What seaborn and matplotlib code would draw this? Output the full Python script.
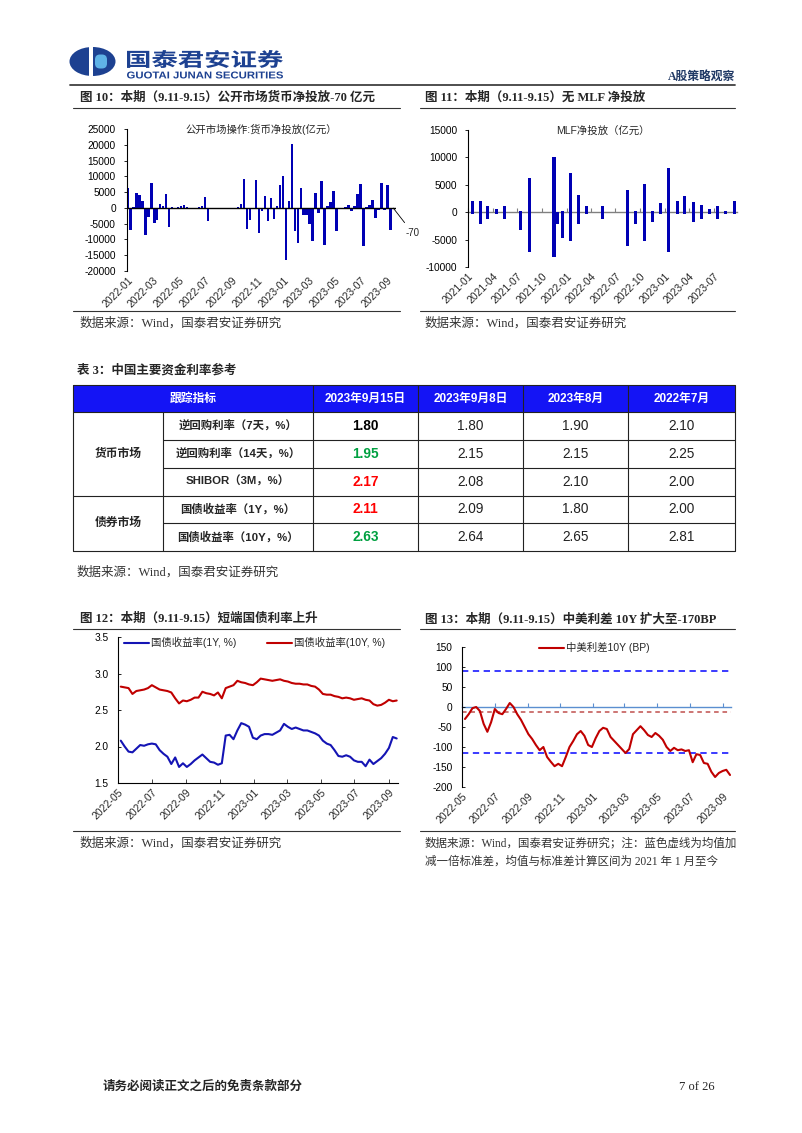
import pandas as pd
import matplotlib
matplotlib.use('Agg')
import matplotlib.pyplot as plt
import matplotlib.dates as mdates
from matplotlib.patches import Rectangle, Ellipse, FancyBboxPatch, PathPatch
from matplotlib.textpath import TextPath
from matplotlib.font_manager import FontProperties
from matplotlib.transforms import Affine2D
import seaborn as sns

# ---- fig 10: weekly open market net injection (100m yuan) ----
omo_start, omo_end = '2021-12-31', '2023-09-15'
omo_net = [6200, -7000, 300, 4800, 4200, 2300, -8500, -3000, 7900, -4800,
           -3700, 1300, 700, 4500, -6100, 400, -300, 300, 500, 800,
           400, 0, 0, 0, 200, 500, 3400, -4300, 0, -300,
           -400, -300, -200, 0, 0, 100, 0, 300, 1100, 9000,
           -6700, -3700, -500, 8700, -7800, -1100, 3900, -4000, 3200, -3600,
           500, 7400, 10000, -16500, 2300, 20100, -7400, -11100, 6300, -2200,
           -2200, -5100, -10400, 4800, -1600, 8500, -11800, 500, 2000, 5500,
           -7400, -400, -200, 300, 900, -1000, 600, 4400, 7600, -12100,
           300, 1000, 2600, -3300, -800, 7900, -800, 7100, -7000, -70]

# ---- fig 11: MLF operations (100m yuan) ----
mlf_dates = ['2021-01-15', '2021-02-15', '2021-03-15', '2021-04-15', '2021-05-15',
             '2021-07-15', '2021-08-15', '2021-11-15', '2021-11-29', '2021-12-15',
             '2022-01-15', '2022-02-15', '2022-03-15', '2022-05-15', '2022-08-15',
             '2022-09-15', '2022-10-15', '2022-11-15', '2022-12-15', '2023-01-15',
             '2023-02-15', '2023-03-15', '2023-04-15', '2023-05-15', '2023-06-15',
             '2023-07-15', '2023-08-15', '2023-09-15']
mlf_in = [2100, 2100, 1100, 600, 1100, 200, 6200, 10100, 0, 200,
          7100, 3200, 1100, 1100, 4100, 300, 5100, 300, 1700, 8000,
          2100, 3000, 1900, 1400, 600, 1200, 200, 2100]
mlf_out = [-300, -2200, -1200, -300, -1200, -3200, -7300, -8200, -2200, -4700,
           -5200, -2200, -300, -1200, -6200, -2200, -5300, -1700, -300, -7300,
           -300, -300, -1700, -1300, -300, -1300, -300, -300]

# ---- fig 12 / 13: weekly yields ----
rate_start, rate_end = '2022-05-06', '2023-09-15'
cgb_1y = [2.08, 2.00, 1.93, 1.92, 1.97, 2.02, 2.01, 2.03, 2.04, 2.03,
          1.95, 1.90, 1.86, 1.76, 1.85, 1.72, 1.77, 1.72, 1.76, 1.81,
          1.85, 1.89, 1.84, 1.79, 1.78, 1.75, 1.77, 2.15, 2.16, 2.10,
          2.22, 2.32, 2.30, 2.27, 2.12, 2.10, 2.15, 2.17, 2.17, 2.16,
          2.19, 2.22, 2.31, 2.27, 2.24, 2.26, 2.24, 2.22, 2.22, 2.20,
          2.18, 2.15, 2.08, 2.04, 2.02, 1.95, 1.87, 1.86, 1.88, 1.86,
          1.81, 1.79, 1.79, 1.73, 1.82, 1.76, 1.80, 1.84, 1.90, 1.98,
          2.13, 2.11]
cgb_10y = [2.82, 2.81, 2.80, 2.72, 2.76, 2.77, 2.78, 2.80, 2.84, 2.81,
           2.78, 2.77, 2.76, 2.74, 2.66, 2.59, 2.63, 2.62, 2.64, 2.67,
           2.67, 2.75, 2.73, 2.72, 2.70, 2.74, 2.66, 2.80, 2.82, 2.84,
           2.90, 2.88, 2.87, 2.85, 2.84, 2.88, 2.93, 2.92, 2.91, 2.90,
           2.91, 2.92, 2.90, 2.89, 2.87, 2.86, 2.86, 2.85, 2.85, 2.83,
           2.82, 2.78, 2.72, 2.71, 2.71, 2.69, 2.68, 2.66, 2.67, 2.66,
           2.64, 2.65, 2.66, 2.64, 2.63, 2.58, 2.56, 2.57, 2.60, 2.64,
           2.62, 2.63]
cn_us_10y = [-30, -18, -3, 0, -10, -42, -62, -38, -5, -15,
             -18, -5, 10, 0, -18, -32, -50, -68, -80, -95,
             -108, -100, -125, -137, -148, -142, -148, -125, -100, -85,
             -68, -60, -72, -95, -100, -78, -60, -52, -55, -75,
             -85, -95, -105, -115, -105, -68, -58, -48, -58, -70,
             -75, -65, -72, -82, -100, -110, -102, -108, -106, -110,
             -108, -138, -118, -120, -140, -142, -162, -175, -165, -160,
             -157, -170]
spread_mean = -12
spread_std = 103

# ---- table 3 ----
table_header = ['跟踪指标', '2023年9月15日', '2023年9月8日', '2023年8月', '2022年7月']
table_groups = ['货币市场', '债券市场']
group_sizes = [3, 2]
table_rows = ['逆回购利率（7天，%）', '逆回购利率（14天，%）', 'SHIBOR（3M，%）',
              '国债收益率（1Y，%）', '国债收益率（10Y，%）']
rate_now = ['1.80', '1.95', '2.17', '2.11', '2.63']
rate_prev_week = ['1.80', '2.15', '2.08', '2.09', '2.64']
rate_aug = ['1.90', '2.15', '2.10', '1.80', '2.65']
rate_jul22 = ['2.10', '2.25', '2.00', '2.00', '2.81']

W, H = 802, 1133
CJK = 'Noto Sans CJK SC'
SANS = ['Liberation Sans', CJK]
SERIF = ['Liberation Serif', CJK]
BAR_BLUE = '#0000b4'
NAVY = '#1d4191'
SRC = '数据来源：Wind，国泰君安证券研究'


def px_axes(fig, l, t, r, b):
    return fig.add_axes([l / W, 1 - b / H, (r - l) / W, (b - t) / H])


def stretched_text(ov, s, x0, y0, x1, y1, prop, color):
    tp = TextPath((0, 0), s, size=10, prop=prop)
    ext = tp.get_extents()
    tr = (Affine2D().translate(-ext.x0, -ext.y0)
          .scale((x1 - x0) / ext.width, -(y1 - y0) / ext.height)
          .translate(x0, y1))
    ov.add_patch(PathPatch(tr.transform_path(tp), fc=color, ec='none'))


def base_style(ax, ydir='out', pad=5.5):
    ax.set_facecolor('none')
    for s in ['top', 'right']:
        ax.spines[s].set_visible(False)
    ax.spines['left'].set_color('black')
    ax.spines['left'].set_linewidth(0.8)
    ax.tick_params(axis='y', labelsize=7.3, length=2.5, width=0.6, direction=ydir,
                   pad=pad, left=True, colors='black')
    ax.tick_params(axis='x', labelsize=7.5, length=0, pad=3, bottom=True)
    ax.set_xlabel('')
    ax.set_ylabel('')
    ax.grid(False)


def date_ticks(ax, months):
    ax.xaxis.set_major_locator(mdates.MonthLocator(bymonth=months))
    ax.xaxis.set_major_formatter(mdates.DateFormatter('%Y-%m'))
    plt.setp(ax.get_xticklabels(), rotation=45, ha='right', rotation_mode='anchor')


def zero_axis(ax, frac, months, color, direction):
    sec = ax.secondary_xaxis(frac)
    sec.xaxis.set_major_locator(mdates.MonthLocator(bymonth=months))
    sec.tick_params(direction=direction, length=3, width=0.8, colors=color,
                    labelbottom=False, labeltop=False)
    for s in sec.spines.values():
        s.set_color(color)
        s.set_linewidth(1.0)


def draw_header(ov):
    ov.add_patch(Ellipse((92.5, 61.5), 46, 29, fc=NAVY, ec='none'))
    ov.add_patch(Rectangle((88.5, 45), 4.5, 33, fc='white', ec='none'))
    ov.add_patch(FancyBboxPatch((95, 54.5), 12, 14, boxstyle='round,pad=0,rounding_size=5',
                                fc='#5fb2e6', ec='none'))
    stretched_text(ov, '国泰君安证券', 127, 50, 283, 68,
                   FontProperties(family=CJK, weight='bold'), NAVY)
    stretched_text(ov, 'GUOTAI JUNAN SECURITIES', 127, 71.5, 283, 78.5,
                   FontProperties(family='Liberation Sans', weight='bold'), NAVY)
    ov.text(735, 77, 'A股策略观察', fontsize=8.5, family=SERIF, fontweight='bold',
            color='#1f3864', ha='right', va='center')
    ov.plot([70, 735], [84.5, 84.5], color='#404040', lw=1.3)


def section_frame(ov, x_text, x0, x1, y_title, title, y_bot, notes, note_size=9):
    ov.text(x_text, y_title, title, fontsize=9, family=SERIF, fontweight='bold',
            ha='left', va='center')
    ov.plot([x0, x1], [y_title + 9.5, y_title + 9.5], color='#333333', lw=0.8)
    ov.plot([x0, x1], [y_bot, y_bot], color='#333333', lw=0.8)
    for i, n in enumerate(notes):
        ov.text(x_text, y_bot + 12 + 19 * i, n, fontsize=note_size, family=SERIF,
                color='#333333', ha='left', va='center')


def draw_omo(fig):
    ax = px_axes(fig, 127, 129, 396.3, 271)
    weeks = pd.date_range(omo_start, omo_end, freq='W-FRI')
    x = mdates.date2num(weeks)
    sns.barplot(x=x, y=omo_net, native_scale=True, color=BAR_BLUE, saturation=1,
                width=0.8, linewidth=0, ax=ax)
    ax.axhline(0, color='black', lw=1.0)
    ax.set_xlim(mdates.datestr2num('2021-12-30'), mdates.datestr2num('2023-09-22'))
    ax.set_ylim(-20000, 25000)
    ax.set_yticks(range(-20000, 25001, 5000))
    base_style(ax, pad=5.5)
    ax.spines['bottom'].set_visible(False)
    date_ticks(ax, [1, 3, 5, 7, 9, 11])
    ax.set_title('公开市场操作:货币净投放(亿元）', fontsize=7.5, family=SANS, y=0.97, pad=0)
    ax.annotate(f'{omo_net[-1]}', xy=(x[-1], omo_net[-1]), xytext=(14, -18),
                textcoords='offset points', fontsize=7, ha='center', va='center',
                arrowprops=dict(arrowstyle='-', color='black', lw=0.6, shrinkA=2, shrinkB=0),
                annotation_clip=False)


def draw_mlf(fig):
    ax = px_axes(fig, 468.3, 130, 737, 267)
    x = mdates.date2num(pd.to_datetime(mlf_dates))
    sns.barplot(x=x, y=mlf_in, native_scale=True, color=BAR_BLUE, saturation=1,
                width=0.8, linewidth=0, ax=ax)
    sns.barplot(x=x, y=mlf_out, native_scale=True, color=BAR_BLUE, saturation=1,
                width=0.8, linewidth=0, ax=ax)
    ax.set_xlim(mdates.datestr2num('2021-01-01'), mdates.datestr2num('2023-09-25'))
    ax.set_ylim(-10000, 15000)
    ax.set_yticks(range(-10000, 15001, 5000))
    base_style(ax, pad=5.5)
    ax.spines['bottom'].set_visible(False)
    date_ticks(ax, [1, 4, 7, 10])
    zero_axis(ax, 10000 / 25000, [1, 4, 7, 10], '#808080', 'in')
    ax.set_title('MLF净投放（亿元）', fontsize=7.5, family=SANS, y=0.97, pad=0)


def draw_table(ov):
    cols = [73, 163, 313, 418, 523, 628, 735]
    rows = [385, 412, 440, 467.5, 495.5, 523, 551]
    ov.add_patch(Rectangle((cols[0], rows[0]), cols[-1] - cols[0], rows[1] - rows[0],
                           fc='#1414f5', ec='none'))
    lc, lw = '#222222', 0.8
    ov.plot([cols[0], cols[-1], cols[-1], cols[0], cols[0]],
            [rows[0], rows[0], rows[-1], rows[-1], rows[0]], color=lc, lw=lw)
    for c in cols[2:-1]:
        ov.plot([c, c], [rows[0], rows[-1]], color=lc, lw=lw)
    ov.plot([cols[1], cols[1]], [rows[1], rows[-1]], color=lc, lw=lw)
    ov.plot([cols[0], cols[-1]], [rows[1], rows[1]], color=lc, lw=lw)
    bounds = [0]
    for g in group_sizes:
        bounds.append(bounds[-1] + g)
    for i in range(1, len(table_rows)):
        x0 = cols[0] if i in bounds else cols[1]
        ov.plot([x0, cols[-1]], [rows[i + 1], rows[i + 1]], color=lc, lw=lw)

    hdr_x = [(cols[0] + cols[2]) / 2] + [(cols[i] + cols[i + 1]) / 2 for i in range(2, 6)]
    yh = (rows[0] + rows[1]) / 2
    for hx, s in zip(hdr_x, table_header):
        ov.text(hx, yh, s, fontsize=8.5, family=SANS, fontweight='bold', color='white',
                ha='center', va='center')
    for gi, g in enumerate(table_groups):
        yc = (rows[1 + bounds[gi]] + rows[1 + bounds[gi + 1]]) / 2
        ov.text((cols[0] + cols[1]) / 2, yc, g, fontsize=8.5, family=SANS,
                fontweight='bold', ha='center', va='center')
    for i, name in enumerate(table_rows):
        yc = (rows[i + 1] + rows[i + 2]) / 2
        ov.text((cols[1] + cols[2]) / 2, yc, name, fontsize=8.2, family=SANS,
                fontweight='bold', ha='center', va='center')
        now, prev = float(rate_now[i]), float(rate_prev_week[i])
        col = '#ff0000' if now > prev else ('#00a040' if now < prev else 'black')
        ov.text((cols[2] + cols[3]) / 2, yc, rate_now[i], fontsize=9.8, family=SANS,
                fontweight='bold', color=col, ha='center', va='center')
        for j, v in enumerate([rate_prev_week[i], rate_aug[i], rate_jul22[i]]):
            ov.text((cols[3 + j] + cols[4 + j]) / 2, yc, v, fontsize=9.8, family=SANS,
                    color='#222222', ha='center', va='center')


def draw_yields(fig):
    ax = px_axes(fig, 118, 637, 397.8, 783)
    dates = pd.date_range(rate_start, rate_end, freq='W-FRI')
    sns.lineplot(x=dates, y=cgb_1y, color='#1414b4', lw=1.5, ax=ax, label='国债收益率(1Y, %)')
    sns.lineplot(x=dates, y=cgb_10y, color='#c00000', lw=1.5, ax=ax, label='国债收益率(10Y, %)')
    ax.set_xlim(pd.Timestamp('2022-05-01'), pd.Timestamp('2023-09-17'))
    ax.set_ylim(1.5, 3.5)
    ax.set_yticks([1.5, 2.0, 2.5, 3.0, 3.5])
    ax.set_yticklabels([f'{v:.1f}' for v in [1.5, 2.0, 2.5, 3.0, 3.5]])
    base_style(ax, ydir='in', pad=7)
    ax.spines['bottom'].set_color('black')
    ax.spines['bottom'].set_linewidth(0.8)
    ax.tick_params(axis='x', length=3, width=0.6, direction='in')
    date_ticks(ax, [1, 3, 5, 7, 9, 11])
    ax.legend(loc='center left', bbox_to_anchor=(0.02, 0.96), ncol=2, frameon=False,
              prop={'family': SANS, 'size': 7.5}, handlelength=2.4,
              handletextpad=0.2, columnspacing=3.0, borderpad=0, borderaxespad=0)


def draw_spread(fig):
    ax = px_axes(fig, 462.3, 647, 731.1, 787)
    dates = pd.date_range(rate_start, rate_end, freq='W-FRI')
    for lvl in [spread_mean + spread_std, spread_mean - spread_std]:
        ax.axhline(lvl, color='#2b2bff', lw=1.3, ls=(0, (3.5, 2.5)))
    ax.axhline(spread_mean, color='#c0504d', lw=1.1, ls=(0, (3, 2.5)))
    sns.lineplot(x=dates, y=cn_us_10y, color='#c00000', lw=1.5, ax=ax, label='中美利差10Y (BP)')
    ax.set_xlim(pd.Timestamp('2022-05-01'), pd.Timestamp('2023-09-17'))
    ax.set_ylim(-200, 150)
    ax.set_yticks(range(-200, 151, 50))
    base_style(ax, ydir='in', pad=7)
    ax.spines['bottom'].set_visible(False)
    date_ticks(ax, [1, 3, 5, 7, 9, 11])
    zero_axis(ax, 200 / 350, [1, 3, 5, 7, 9, 11], '#5b8fd0', 'out')
    ax.legend(loc='center', bbox_to_anchor=(0.49, 0.995), frameon=False,
              prop={'family': SANS, 'size': 7.5}, handlelength=2.4, handletextpad=0.2,
              borderpad=0, borderaxespad=0)


def main():
    sns.set_style('white')
    plt.rcParams['font.family'] = SANS
    plt.rcParams['axes.unicode_minus'] = False

    fig = plt.figure(figsize=(W / 100, H / 100), dpi=100)
    ov = fig.add_axes([0, 0, 1, 1])
    ov.set_xlim(0, W)
    ov.set_ylim(H, 0)
    ov.axis('off')

    draw_header(ov)
    section_frame(ov, 80, 73, 400, 98, '图 10：本期（9.11-9.15）公开市场货币净投放-70 亿元', 311, [SRC])
    section_frame(ov, 425, 420, 735, 98, '图 11：本期（9.11-9.15）无 MLF 净投放', 311, [SRC])
    ov.text(77, 370, '表 3：中国主要资金利率参考', fontsize=9, family=SERIF,
            fontweight='bold', ha='left', va='center')
    draw_table(ov)
    ov.text(77, 572, SRC, fontsize=9, family=SERIF, color='#333333', ha='left', va='center')
    section_frame(ov, 80, 73, 400, 619, '图 12：本期（9.11-9.15）短端国债利率上升', 831, [SRC])
    section_frame(ov, 425, 420, 735, 619, '图 13：本期（9.11-9.15）中美利差 10Y 扩大至-170BP', 831,
                  ['数据来源：Wind，国泰君安证券研究；注：蓝色虚线为均值加',
                   '减一倍标准差，均值与标准差计算区间为 2021 年 1 月至今'], note_size=8.3)
    ov.text(103, 1087, '请务必阅读正文之后的免责条款部分', fontsize=9, family=SERIF,
            fontweight='bold', ha='left', va='center')
    ov.text(715, 1087, '7 of 26', fontsize=9, family=SERIF, ha='right', va='center')

    draw_omo(fig)
    draw_mlf(fig)
    draw_yields(fig)
    draw_spread(fig)

    fig.savefig('out.png', dpi=100)


if __name__ == "__main__":
    main()
